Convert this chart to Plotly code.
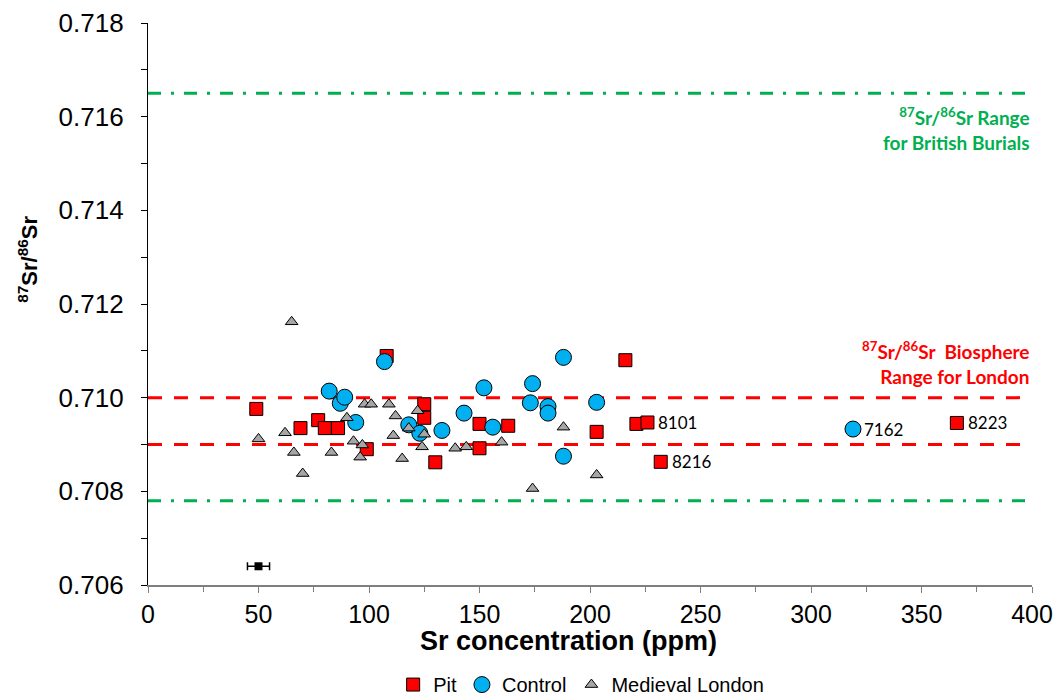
import plotly.graph_objects as go

# ---- data ----
pit_sr = [49, 69, 77, 80, 86, 99, 108, 125, 125, 130, 150, 150, 163, 203, 216, 221, 226, 232, 366]
pit_ratio = [0.70976, 0.70935, 0.70952, 0.70935, 0.70935, 0.70890, 0.71089, 0.70986, 0.70957,
             0.70862, 0.70944, 0.70892, 0.70940, 0.70927, 0.71080, 0.70944, 0.70947, 0.70863, 0.70946]

control_sr = [82, 87, 89, 94, 107, 118, 123, 133, 143, 152, 156, 173, 174, 181, 181, 188, 188, 203, 319]
control_ratio = [0.71014, 0.70988, 0.71001, 0.70947, 0.71077, 0.70942, 0.70924, 0.70930, 0.70967,
                 0.71021, 0.70937, 0.70989, 0.71030, 0.70981, 0.70967, 0.71086, 0.70875, 0.70990, 0.70933]

london_sr = [50, 62, 65, 66, 70, 83, 90, 93, 96, 97, 98, 101, 109, 111, 112, 115, 118, 122,
             124, 125, 139, 144, 160, 174, 188, 203]
london_ratio = [0.70912, 0.70925, 0.71162, 0.70883, 0.70838, 0.70883, 0.70957, 0.70907, 0.70873,
                0.70899, 0.70986, 0.70986, 0.70986, 0.70919, 0.70961, 0.70870, 0.70935, 0.70972,
                0.70895, 0.70922, 0.70892, 0.70895, 0.70905, 0.70806, 0.70937, 0.70835]

error_sr = [50]
error_ratio = [0.70640]
error_sr_err = [5]

labels = ["8101", "8216", "7162", "8223"]
label_sr = [226, 232, 319, 366]
label_ratio = [0.70947, 0.70863, 0.70933, 0.70946]

british_range = [0.7078, 0.7165]
london_range = [0.7090, 0.7100]
x_span = [0, 400]

x_ticks = [0, 50, 100, 150, 200, 250, 300, 350, 400]
y_ticks = [0.706, 0.708, 0.710, 0.712, 0.714, 0.716, 0.718]

GREEN = "#00B050"
RED = "#FF0000"
BLUE = "#00B0F0"
GRAY = "#A6A6A6"

fig = go.Figure()

for v in british_range:
    fig.add_trace(go.Scatter(x=x_span, y=[v, v], mode="lines", showlegend=False, hoverinfo="skip",
                             line=dict(color=GREEN, width=3, dash="13px,10px,3px,10px")))
for v in london_range:
    fig.add_trace(go.Scatter(x=x_span, y=[v, v], mode="lines", showlegend=False, hoverinfo="skip",
                             line=dict(color=RED, width=3, dash="14px,12px")))

fig.add_trace(go.Scatter(x=pit_sr, y=pit_ratio, mode="markers", name="Pit",
                         marker=dict(symbol="square", size=13, color=RED,
                                     line=dict(color="#000000", width=1))))
fig.add_trace(go.Scatter(x=control_sr, y=control_ratio, mode="markers", name="Control",
                         marker=dict(symbol="circle", size=16, color=BLUE,
                                     line=dict(color="#000000", width=1))))
fig.add_trace(go.Scatter(x=london_sr, y=london_ratio, mode="markers", name="Medieval London",
                         marker=dict(symbol="triangle-up", size=11, color=GRAY,
                                     line=dict(color="#000000", width=1))))

fig.add_trace(go.Scatter(x=error_sr, y=error_ratio, mode="markers", showlegend=False,
                         marker=dict(symbol="square", size=8, color="#000000"),
                         error_x=dict(type="data", array=error_sr_err, color="#000000",
                                      thickness=1.5, width=4)))

for t, xv, yv in zip(labels, label_sr, label_ratio):
    fig.add_annotation(x=xv, y=yv, text=t, showarrow=False, xanchor="left", yanchor="middle",
                       xshift=9, font=dict(family="Lato", size=17, color="#000000"))

fig.add_annotation(xref="paper", yref="paper", x=1.0, y=(british_range[1] - 0.706) / 0.012,
                   xanchor="right", yanchor="top", yshift=-9, align="right", showarrow=False,
                   text="<b><sup>87</sup>Sr/<sup>86</sup>Sr Range<br>for British Burials</b>",
                   font=dict(family="Lato", size=19, color=GREEN))
fig.add_annotation(xref="paper", yref="paper", x=1.0, y=(london_range[1] - 0.706) / 0.012,
                   xanchor="right", yanchor="bottom", yshift=8, align="right", showarrow=False,
                   text="<b><sup>87</sup>Sr/<sup>86</sup>Sr  Biosphere<br>Range for London</b>",
                   font=dict(family="Lato", size=19, color=RED))

# x-axis title (offset left of centre as in the reference)
fig.add_annotation(xref="paper", yref="paper", x=0.476, y=0, yshift=-56, xanchor="center",
                   yanchor="middle", showarrow=False,
                   text="<b>Sr concentration (ppm)</b>",
                   font=dict(family="Liberation Sans, Arial", size=27, color="#000000"))

# y-axis title (placed above centre as in the reference)
fig.add_annotation(xref="paper", yref="paper", x=-0.136, y=0.58, xanchor="center",
                   yanchor="middle", showarrow=False, textangle=-90,
                   text="<b><sup>87</sup>Sr/<sup>86</sup>Sr</b>",
                   font=dict(family="Liberation Sans, Arial", size=22, color="#000000"))

fig.update_layout(
    width=1054, height=695,
    margin=dict(l=148, r=22, t=23, b=110, autoexpand=False),
    plot_bgcolor="white", paper_bgcolor="white",
    font=dict(family="Liberation Sans, Arial", color="#000000"),
    legend=dict(orientation="h", x=0.49, xanchor="center", yref="container", y=0.015, yanchor="middle",
                font=dict(size=20), itemsizing="trace", itemwidth=30),
    showlegend=True,
)

fig.update_xaxes(range=[0, 400], tickvals=x_ticks, ticks="outside", ticklen=6, tickcolor="#7F7F7F",
                 showline=True, linecolor="#7F7F7F", linewidth=1.5, showgrid=False, zeroline=False,
                 tickfont=dict(size=25), automargin=False,
                 minor=dict(dtick=25, ticks="outside", ticklen=5, tickcolor="#7F7F7F"))
fig.update_yaxes(range=[0.706, 0.718], tickvals=y_ticks, tickformat=".3f", ticks="outside", ticklen=6,
                 tickcolor="#000000", showline=True, linecolor="#000000", linewidth=1.2,
                 showgrid=False, zeroline=False, tickfont=dict(size=26), automargin=False,
                 ticklabelstandoff=12,
                 minor=dict(dtick=0.001, ticks="outside", ticklen=6, tickcolor="#000000"))

fig.write_html("out.html")
